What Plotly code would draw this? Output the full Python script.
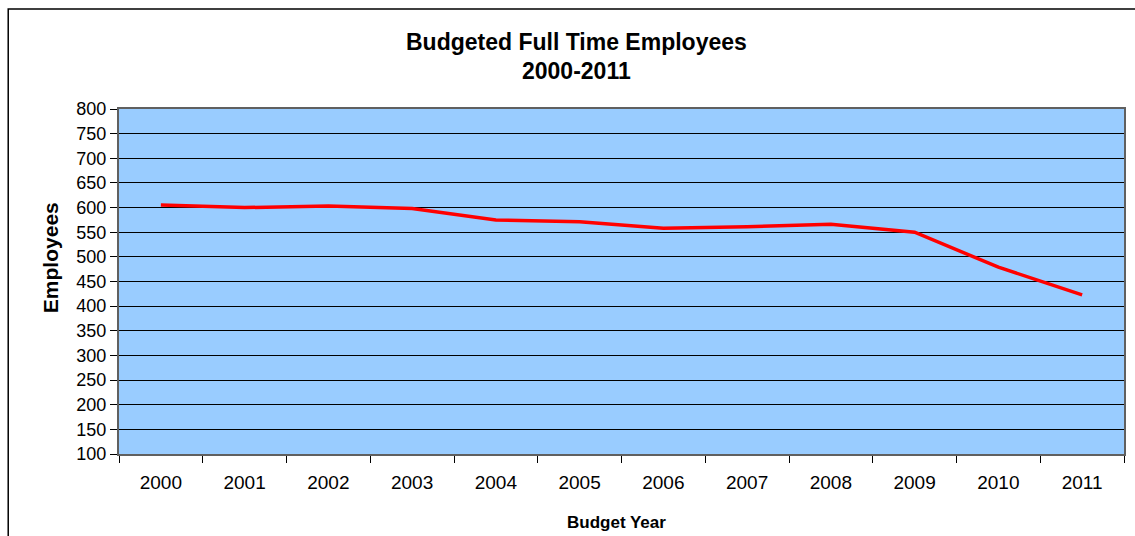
import plotly.graph_objects as go

years = ["2000", "2001", "2002", "2003", "2004", "2005", "2006", "2007", "2008", "2009", "2010", "2011"]
employees = [605, 600, 603, 598, 575, 571, 558, 561, 566, 550, 479, 423]
y_ticks = list(range(100, 801, 50))
title_lines = ["Budgeted Full Time Employees", "2000-2011"]

W, H = 1135, 536
L, R, T, B = 119, 9, 109, 82
pw = W - L - R
ph = H - T - B

def px(x):
    return (x - L) / pw

def py(y):
    return (H - B - y) / ph

fig = go.Figure()
fig.add_trace(go.Scatter(x=years, y=employees, mode="lines",
                         line=dict(color="#FF0000", width=3.5),
                         showlegend=False, hoverinfo="x+y"))

font = "Liberation Sans, Arial, sans-serif"
fig.update_layout(
    width=W, height=H,
    margin=dict(l=L, r=R, t=T, b=B),
    paper_bgcolor="white",
    plot_bgcolor="#99CCFF",
    font=dict(family=font, color="black"),
    xaxis=dict(type="category", tickson="boundaries", ticks="outside", ticklen=7,
               tickcolor="black", tickwidth=1, showgrid=False,
               showline=True, linecolor="#606060", linewidth=2, mirror=True,
               tickfont=dict(size=19), ticklabelstandoff=10, range=[-0.5, 11.5]),
    yaxis=dict(range=[100, 800], tickvals=y_ticks, ticks="outside", ticklen=7,
               tickcolor="black", tickwidth=1, showgrid=True, gridcolor="black",
               gridwidth=1, showline=True, linecolor="#606060", linewidth=2,
               mirror=True, tickfont=dict(size=18), zeroline=False),
    shapes=[dict(type="rect", xref="paper", yref="paper",
                 x0=px(8), x1=px(1170), y0=py(570), y1=py(9),
                 line=dict(color="black", width=1.5), fillcolor="rgba(0,0,0,0)",
                 layer="below")],
    annotations=[
        dict(text="<b>" + title_lines[0] + "</b>",
             xref="paper", yref="paper", x=px(577), y=py(42), xanchor="center",
             yanchor="middle", showarrow=False, font=dict(size=23, family=font)),
        dict(text="<b>" + title_lines[1] + "</b>",
             xref="paper", yref="paper", x=px(577), y=py(71), xanchor="center",
             yanchor="middle", showarrow=False, font=dict(size=23, family=font)),
        dict(text="<b>Employees</b>", xref="paper", yref="paper", x=px(50), y=py(258),
             xanchor="center", yanchor="middle", textangle=-90, showarrow=False,
             font=dict(size=21, family=font)),
        dict(text="<b>Budget Year</b>", xref="paper", yref="paper", x=px(617), y=py(522),
             xanchor="center", yanchor="middle", showarrow=False,
             font=dict(size=17, family=font)),
    ],
)

fig.write_html("out.html")
